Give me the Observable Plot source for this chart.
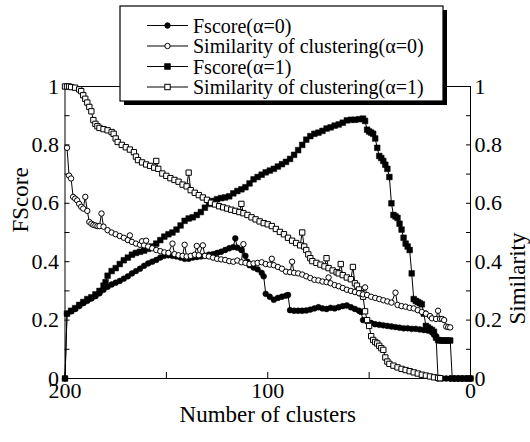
<!DOCTYPE html>
<html>
<head>
<meta charset="utf-8">
<script src="https://cdn.jsdelivr.net/npm/d3@7"></script>
<script src="https://cdn.jsdelivr.net/npm/@observablehq/plot@0.6"></script>
<style>
  html, body { margin: 0; padding: 0; background: white; }
  #chart { width: 530px; height: 442px; }
  #chart svg, #chart svg text { font-family: "Liberation Serif", "Times New Roman", "DejaVu Serif", serif !important; }
</style>
</head>
<body>
<div id="chart"></div>
<script>
// ---- series names (legend) ----
const seriesNames = [
  "Fscore(α=0)",
  "Similarity of clustering(α=0)",
  "Fscore(α=1)",
  "Similarity of clustering(α=1)"
];

// ---- tick labels ----
const xTickLabels = [200, 100, 0];
const xMinorTicks = [200, 150, 100, 50, 0];
const yTickLabels = [0, 0.2, 0.4, 0.6, 0.8, 1];
const yMinorTicks = [0, 0.1, 0.2, 0.3, 0.4, 0.5, 0.6, 0.7, 0.8, 0.9, 1];

// ---- data: [number of clusters, value] ----
const fscoreA0 = [
  [200,0],[199,0.222],[197,0.230],[195,0.238],[193,0.248],[191,0.258],[189,0.266],[187,0.274],
  [185,0.282],[183,0.292],[181,0.304],[179,0.314],[177,0.322],[175,0.328],[173,0.334],[171,0.342],
  [169,0.350],[167,0.360],[165,0.368],[163,0.376],[161,0.386],[159,0.394],[157,0.400],[155,0.406],
  [153,0.414],[151,0.420],[149,0.422],[147,0.420],[145,0.418],[143,0.414],[141,0.410],[139,0.410],
  [137,0.414],[135,0.416],[133,0.418],[131,0.420],[129,0.424],[127,0.426],[125,0.430],[123,0.434],
  [121,0.440],[119,0.446],[117,0.450],[116,0.480],[115,0.448],[113,0.440],[111,0.420],[110,0.400],
  [109,0.388],[107,0.380],[105,0.374],[103,0.362],[102,0.350],[101,0.290],[99,0.280],[97,0.270],
  [95,0.276],[93,0.280],[91,0.284],[90,0.286],[89,0.234],[87,0.232],[85,0.232],[83,0.232],
  [81,0.233],[79,0.236],[77,0.240],[75,0.244],[73,0.240],[71,0.238],[69,0.242],[67,0.240],
  [65,0.244],[63,0.248],[61,0.250],[59,0.244],[57,0.238],[55,0.232],[54,0.228],[53,0.200],
  [51,0.196],[49,0.190],[47,0.186],[45,0.184],[43,0.182],[41,0.180],[39,0.178],[37,0.176],
  [35,0.174],[33,0.172],[31,0.172],[29,0.170],[27,0.170],[25,0.168],[23,0.166],[21,0.164],
  [19,0.158],[18,0.150],[17,0.145],[16,0],[14,0],[12,0],[10,0],[8,0],[6,0],[4,0],[2,0],[0,0]
];

const fscoreA1 = [
  [200,0],[199,0.222],[197,0.232],[195,0.241],[193,0.252],[191,0.262],[189,0.272],[187,0.278],
  [185,0.288],[183,0.300],[181,0.318],[180,0.330],[179,0.352],[177,0.368],[175,0.378],[173,0.392],
  [171,0.405],[169,0.414],[167,0.424],[165,0.430],[163,0.434],[161,0.438],[159,0.444],[157,0.452],
  [155,0.462],[153,0.474],[151,0.486],[149,0.494],[147,0.500],[145,0.510],[143,0.524],[141,0.540],
  [139,0.548],[137,0.552],[135,0.560],[133,0.570],[131,0.585],[129,0.598],[127,0.608],[125,0.614],
  [123,0.618],[121,0.620],[119,0.624],[117,0.634],[115,0.642],[113,0.648],[111,0.655],[109,0.668],
  [107,0.682],[105,0.690],[103,0.698],[101,0.706],[99,0.712],[97,0.718],[95,0.726],[93,0.734],
  [91,0.742],[89,0.752],[87,0.766],[85,0.782],[83,0.800],[81,0.818],[79,0.830],[77,0.838],
  [75,0.842],[73,0.848],[71,0.856],[69,0.860],[67,0.866],[65,0.870],[63,0.876],[61,0.884],
  [59,0.886],[57,0.886],[55,0.888],[53,0.890],[52,0.882],[51,0.852],[50,0.846],[49,0.842],
  [48,0.838],[47,0.822],[46,0.790],[45,0.762],[44,0.755],[43,0.745],[42,0.732],[41,0.718],
  [40,0.690],[39,0.600],[38,0.560],[37,0.555],[36,0.550],[35,0.530],[34,0.510],[33,0.482],
  [32,0.462],[31,0.452],[30,0.440],[29,0.360],[28,0.272],[27,0.266],[26,0.262],[25,0.258],
  [24,0.254],[23,0.222],[22,0.180],[21,0.175],[20,0.170],[19,0.166],[18,0.160],[17,0.140],
  [16,0.132],[15,0.130],[14,0.130],[13,0.130],[12,0.130],[11,0.130],[10,0.130],[9,0],
  [7,0],[5,0],[3,0],[1,0],[0,0]
];

const similarityA0 = [
  [199,0.790],[198,0.695],[197,0.685],[196,0.622],[195,0.616],[194,0.610],[193,0.598],[192,0.588],
  [191,0.582],[190,0.622],[189,0.574],[188,0.536],[187,0.530],[186,0.526],[185,0.524],[184,0.522],
  [183,0.522],[182,0.565],[181,0.520],[179,0.508],[177,0.500],[175,0.494],[173,0.488],[171,0.482],
  [169,0.474],[168,0.490],[167,0.468],[165,0.462],[163,0.458],[162,0.470],[161,0.456],[160,0.472],
  [159,0.452],[157,0.446],[155,0.440],[153,0.436],[151,0.432],[149,0.430],[147,0.462],[146,0.426],
  [144,0.422],[142,0.420],[141,0.458],[140,0.418],[138,0.420],[136,0.424],[135,0.454],[134,0.422],
  [132,0.456],[131,0.420],[129,0.418],[127,0.414],[125,0.410],[123,0.408],[121,0.406],[119,0.402],
  [117,0.400],[115,0.404],[113,0.398],[112,0.460],[111,0.396],[109,0.392],[107,0.394],[105,0.396],
  [103,0.398],[101,0.392],[99,0.390],[98,0.410],[97,0.388],[95,0.382],[93,0.376],[91,0.366],
  [89,0.364],[88,0.400],[87,0.362],[85,0.360],[83,0.356],[81,0.350],[79,0.344],[77,0.338],
  [75,0.336],[73,0.332],[71,0.330],[70,0.346],[69,0.326],[67,0.320],[65,0.316],[63,0.310],
  [61,0.304],[59,0.300],[57,0.296],[55,0.292],[53,0.288],[52,0.312],[51,0.286],[49,0.280],
  [47,0.276],[45,0.272],[43,0.268],[41,0.264],[39,0.260],[37,0.294],[36,0.252],[34,0.248],
  [32,0.246],[30,0.242],[28,0.240],[26,0.234],[24,0.228],[22,0.222],[20,0.214],[19,0.206],
  [17,0.204],[16,0.232],[15,0.204],[14,0.204],[13,0.200],[12,0.178],[11,0.176],[10,0.175]
];

const similarityA1 = [
  [200,1.000],[199,1.000],[198,1.000],[197,0.998],[195,0.996],[193,0.990],[192,0.984],[191,0.970],
  [190,0.958],[189,0.945],[188,0.930],[187,0.915],[186,0.885],[185,0.872],[184,0.864],[183,0.858],
  [181,0.854],[179,0.850],[177,0.844],[176,0.838],[175,0.822],[174,0.810],[172,0.800],[170,0.792],
  [168,0.784],[166,0.775],[165,0.760],[164,0.748],[162,0.740],[160,0.733],[158,0.728],[156,0.722],
  [155,0.745],[154,0.718],[152,0.702],[150,0.694],[148,0.686],[146,0.680],[144,0.674],[142,0.664],
  [140,0.658],[139,0.705],[138,0.645],[136,0.636],[134,0.628],[132,0.620],[130,0.612],[128,0.602],
  [126,0.596],[124,0.590],[122,0.586],[120,0.582],[118,0.578],[116,0.574],[114,0.570],[113,0.598],
  [112,0.566],[110,0.560],[108,0.552],[106,0.545],[104,0.538],[102,0.532],[100,0.528],[98,0.522],
  [96,0.512],[94,0.502],[92,0.494],[90,0.482],[88,0.472],[86,0.464],[84,0.456],[83,0.500],
  [82,0.452],[81,0.440],[80,0.425],[79,0.412],[78,0.402],[76,0.396],[74,0.390],[72,0.384],
  [71,0.412],[70,0.378],[68,0.370],[66,0.364],[65,0.360],[64,0.392],[63,0.354],[61,0.346],
  [59,0.340],[58,0.382],[57,0.326],[56,0.318],[55,0.305],[54,0.292],[53,0.280],[52,0.230],
  [51,0.200],[50,0.180],[49,0.145],[48,0.132],[47,0.125],[46,0.120],[45,0.112],[44,0.104],
  [43,0.098],[42,0.072],[41,0.058],[40,0.050],[38,0.044],[36,0.038],[34,0.033],[32,0.029],
  [30,0.025],[28,0.021],[26,0.017],[24,0.013],[22,0.010],[20,0.007],[18,0.004],[16,0.002],[15,0.001]
];

const toRows = arr => arr.map(([n, v]) => ({n, v}));
const fs0 = toRows(fscoreA0), fs1 = toRows(fscoreA1);
const sm0 = toRows(similarityA0), sm1 = toRows(similarityA1);

const FONT = "'Liberation Serif', 'Times New Roman', 'DejaVu Serif', serif";
const fmt = d => d === 0 ? "0" : d === 1 ? "1" : d.toFixed(1);

const chart = Plot.plot({
  width: 530,
  height: 442,
  marginLeft: 64.5,
  marginRight: 60,
  marginTop: 86,
  marginBottom: 64,
  x: {domain: [200, 0]},
  y: {domain: [0, 1]},
  style: `font-family: ${FONT}; font-size: 22px; background: white; color: black;`,
  marks: [
    Plot.frame({stroke: "black", strokeWidth: 1}),
    // inward ticks
    Plot.axisY({anchor: "left", ticks: yMinorTicks, tickSize: 5, dx: 5, tickFormat: () => "", label: null}),
    Plot.axisY({anchor: "right", ticks: yMinorTicks, tickSize: 5, dx: -5, tickFormat: () => "", label: null}),
    Plot.axisX({anchor: "bottom", ticks: xMinorTicks, tickSize: 6, dy: -6, tickFormat: () => "", label: null}),
    // tick labels
    Plot.axisY({anchor: "left", ticks: yTickLabels, tickSize: 0, tickPadding: 6, tickFormat: fmt, label: null, fontSize: 22}),
    Plot.axisY({anchor: "right", ticks: yTickLabels, tickSize: 0, tickPadding: 4, tickFormat: fmt, label: null, fontSize: 22}),
    Plot.axisX({anchor: "bottom", ticks: xTickLabels, tickSize: 0, tickPadding: 4, tickFormat: d => String(d), label: null, fontSize: 22}),
    // axis titles
    Plot.text(["FScore"], {frameAnchor: "left", text: d => d, rotate: -90, dx: -44, fontSize: 23}),
    Plot.text(["Similarity"], {frameAnchor: "right", text: d => d, rotate: -90, dx: 47, fontSize: 23}),
    Plot.text(["Number of clusters"], {frameAnchor: "bottom", text: d => d, dy: 43, fontSize: 23}),
    // Fscore series
    Plot.line(fs0, {x: "n", y: "v", stroke: "black", strokeWidth: 1}),
    Plot.dot(fs0, {x: "n", y: "v", symbol: "circle", r: 2.9, fill: "black", stroke: "black", strokeWidth: 0.5}),
    Plot.line(fs1, {x: "n", y: "v", stroke: "black", strokeWidth: 1}),
    Plot.dot(fs1, {x: "n", y: "v", symbol: "square", r: 3.2, fill: "black", stroke: "black", strokeWidth: 0.5}),
    // Similarity series
    Plot.line(sm1, {x: "n", y: "v", stroke: "black", strokeWidth: 1}),
    Plot.dot(sm1, {x: "n", y: "v", symbol: "square", r: 3, fill: "white", stroke: "black", strokeWidth: 1}),
    Plot.line(sm0, {x: "n", y: "v", stroke: "black", strokeWidth: 1}),
    Plot.dot(sm0, {x: "n", y: "v", symbol: "circle", r: 2.7, fill: "white", stroke: "black", strokeWidth: 1})
  ]
});

document.getElementById("chart").appendChild(chart);

// ---- legend (drawn inside the same SVG) ----
const svg = d3.select(chart);
const lg = svg.append("g").attr("font-family", FONT).attr("font-size", 20).attr("text-anchor", "start");
const bx = 120, by = 6, bw = 323, bh = 95;
lg.append("rect").attr("x", bx + 4).attr("y", by + 4).attr("width", bw).attr("height", bh).attr("fill", "black");
lg.append("rect").attr("x", bx).attr("y", by).attr("width", bw).attr("height", bh)
  .attr("fill", "white").attr("stroke", "black").attr("stroke-width", 1.2);
const rowY = [25.5, 46, 66.5, 87];
const kinds = [
  {shape: "circle", fill: "black"},
  {shape: "circle", fill: "white"},
  {shape: "square", fill: "black"},
  {shape: "square", fill: "white"}
];
seriesNames.forEach((name, i) => {
  const y = rowY[i];
  lg.append("line").attr("x1", 147).attr("x2", 188).attr("y1", y).attr("y2", y)
    .attr("stroke", "black").attr("stroke-width", 1);
  const k = kinds[i];
  if (k.shape === "circle") {
    lg.append("circle").attr("cx", 167.5).attr("cy", y).attr("r", 2.7)
      .attr("fill", k.fill).attr("stroke", "black").attr("stroke-width", 1);
  } else {
    lg.append("rect").attr("x", 167.5 - 2.7).attr("y", y - 2.7).attr("width", 5.4).attr("height", 5.4)
      .attr("fill", k.fill).attr("stroke", "black").attr("stroke-width", 1);
  }
  lg.append("text").attr("x", 193).attr("y", y).attr("dy", "0.35em").attr("fill", "black")
    .attr("text-anchor", "start").text(name);
});
</script>
</body>
</html>
